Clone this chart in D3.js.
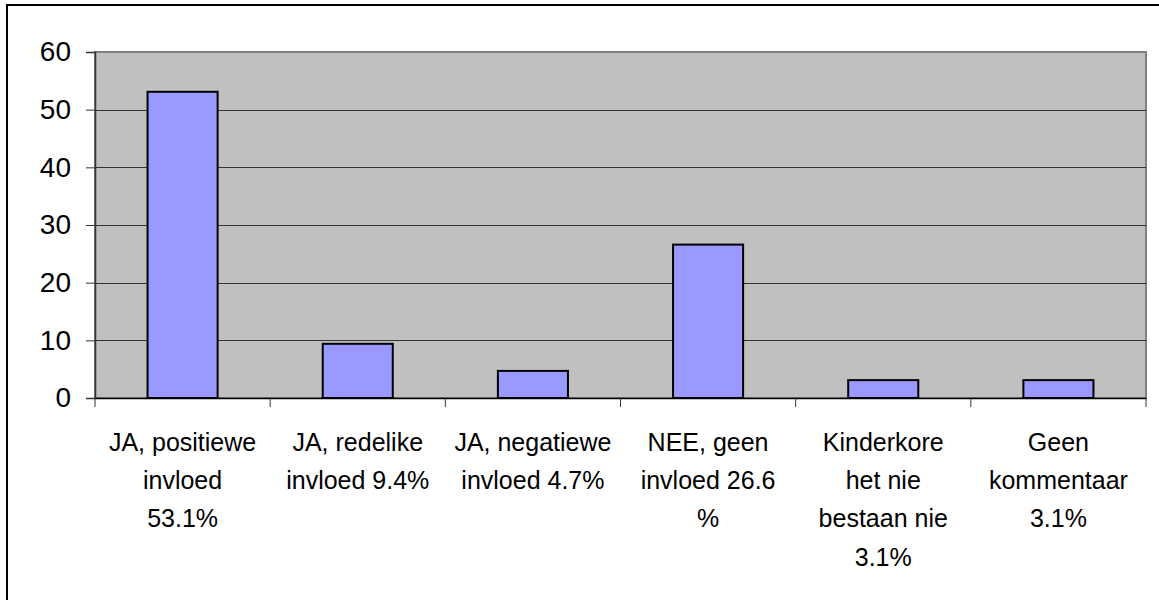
<!DOCTYPE html>
<html>
<head>
<meta charset="utf-8">
<script src="https://cdn.jsdelivr.net/npm/d3@7"></script>
<style>
html,body{margin:0;padding:0;background:#fff;}
svg{display:block;}
text{font-family:"Liberation Sans",Arial,sans-serif;fill:#000;}
</style>
</head>
<body>
<svg id="chart" width="1159" height="600"></svg>
<script>
const categories = ["JA, positiewe invloed", "JA, redelike invloed", "JA, negatiewe invloed", "NEE, geen invloed", "Kinderkore het nie bestaan nie", "Geen kommentaar"];
const values = [53.1, 9.4, 4.7, 26.6, 3.1, 3.1];
const tickLabels = [
  ["JA, positiewe", "invloed", "53.1%"],
  ["JA, redelike", "invloed 9.4%"],
  ["JA, negatiewe", "invloed 4.7%"],
  ["NEE, geen", "invloed 26.6", "%"],
  ["Kinderkore", "het nie", "bestaan nie", "3.1%"],
  ["Geen", "kommentaar", "3.1%"]
];
const yTicks = [0, 10, 20, 30, 40, 50, 60];

const svg = d3.select("#chart");
const pLeft = 95, pRight = 1146, pTop = 52, pBottom = 398;

// outer frame
svg.append("rect").attr("x", 7).attr("y", 5).attr("width", 1170).attr("height", 620)
  .attr("fill", "#fff").attr("stroke", "#000").attr("stroke-width", 2);

const x = d3.scaleBand().domain(categories).range([pLeft, pRight]).padding(0);
const y = d3.scaleLinear().domain([0, 60]).range([pBottom, pTop]);

// plot area
svg.append("rect").attr("x", pLeft).attr("y", pTop).attr("width", pRight - pLeft).attr("height", pBottom - pTop)
  .attr("fill", "#C0C0C0").attr("stroke", "#808080").attr("stroke-width", 2);

// gridlines
svg.append("g").selectAll("line").data(yTicks.filter(d => d > 0 && d < 60)).join("line")
  .attr("x1", pLeft).attr("x2", pRight)
  .attr("y1", d => Math.round(y(d)) + 0.5).attr("y2", d => Math.round(y(d)) + 0.5)
  .attr("stroke", "#333").attr("stroke-width", 1);

// bars
const bw = x.bandwidth() / 2.5;
svg.append("g").selectAll("rect").data(values).join("rect")
  .attr("x", (d, i) => x(categories[i]) + (x.bandwidth() - bw) / 2)
  .attr("y", d => y(d))
  .attr("width", bw)
  .attr("height", d => y(0) - y(d))
  .attr("fill", "#9999FF").attr("stroke", "#000").attr("stroke-width", 2);

// y axis
const yAxis = d3.axisLeft(y).tickValues(yTicks).tickSize(9).tickPadding(15);
const gy = svg.append("g").attr("transform", `translate(${pLeft},0)`).call(yAxis);
gy.select(".domain").attr("stroke", "#333").attr("stroke-width", 1.5);
gy.selectAll(".tick line").attr("stroke", "#333");
gy.selectAll(".tick text").attr("font-size", 28).attr("font-family", "Liberation Sans, Arial, sans-serif").attr("fill", "#000");

// x axis
const xAxis = d3.axisBottom(x).tickSize(0).tickFormat("");
const gx = svg.append("g").attr("transform", `translate(0,${pBottom})`).call(xAxis);
gx.select(".domain").attr("stroke", "#000").attr("stroke-width", 1.5);
gx.selectAll(".tick").remove();
const bounds = categories.map(c => x(c)).concat([pRight]);
gx.selectAll("line.sep").data(bounds).join("line").attr("class", "sep")
  .attr("x1", d => d).attr("x2", d => d).attr("y1", 0).attr("y2", 9)
  .attr("stroke", "#333").attr("stroke-width", 1);

// category labels
const lab = svg.append("g");
tickLabels.forEach((lines, i) => {
  const cx = x(categories[i]) + x.bandwidth() / 2;
  const t = lab.append("text").attr("text-anchor", "middle").attr("font-size", 25);
  lines.forEach((ln, j) => {
    t.append("tspan").attr("x", cx).attr("y", 451 + j * 38.2).text(ln);
  });
});
</script>
</body>
</html>
